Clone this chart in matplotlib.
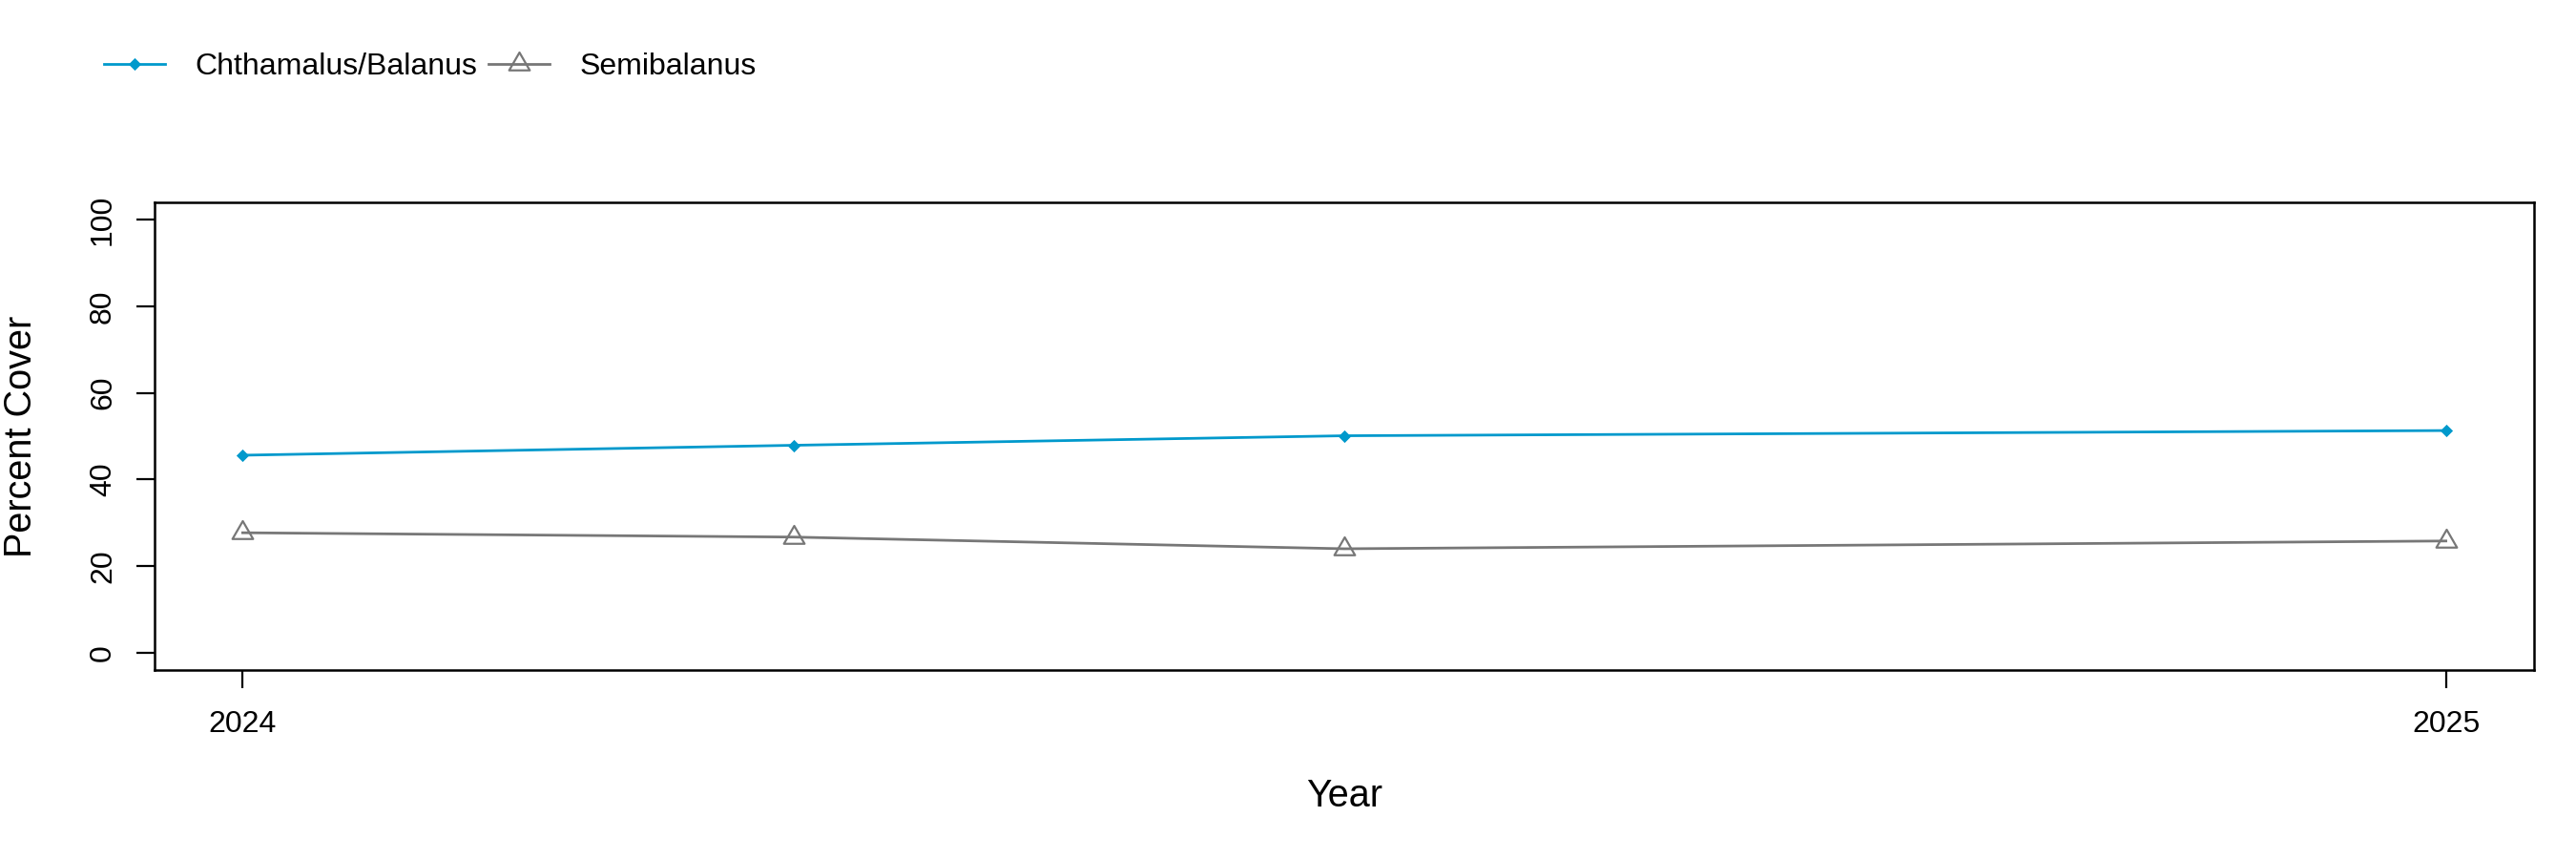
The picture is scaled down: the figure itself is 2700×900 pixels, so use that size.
import numpy as np
import matplotlib
matplotlib.use("Agg")
import matplotlib.pyplot as plt
from matplotlib.path import Path

plt.rcParams['font.family'] = ['Liberation Sans', 'DejaVu Sans']

# sampling dates as decimal years
years = [2024.0, 2024.25, 2024.5, 2025.0]
chthamalus = [45.6, 47.9, 50.1, 51.3]
semibalanus = [27.7, 26.7, 24.0, 25.8]
year_ticks = [2024, 2025]
year_labels = ['2024', '2025']
y_ticks = [0, 20, 40, 60, 80, 100]

blue = '#0099CC'
grey = '#777777'

# R style markers: filled diamond (pch 18), open triangle (pch 2)
diamond = Path([(0, 1), (1, 0), (0, -1), (-1, 0), (0, 1)], closed=True)
tri = Path([(0, 1), (-0.866, -0.5), (0.866, -0.5), (0, 1)], closed=True)

fig = plt.figure(figsize=(27, 9), dpi=100)
ax = fig.add_axes([162/2700, 1-702/900, (2656-162)/2700, (702-212)/900])

ax.plot(years, chthamalus, color=blue, lw=2.0, marker=diamond, ms=9.5,
        mfc=blue, mec=blue, mew=0, label='Chthamalus/Balanus')
ax.plot(years, semibalanus, color=grey, lw=2.0, marker=tri, ms=18,
        mfc='none', mec=grey, mew=1.6, label='Semibalanus')

ax.set_xlim(2024 - 0.04, 2025 + 0.04)
ax.set_ylim(-4, 104)
ax.set_xticks(year_ticks)
ax.set_xticklabels(year_labels)
ax.set_yticks(y_ticks)
ax.set_yticklabels([str(v) for v in y_ticks], rotation=90, va='center')

ax.tick_params(axis='both', length=14, width=1.6, labelsize=23, direction='out')
ax.tick_params(axis='x', pad=16)
ax.tick_params(axis='y', pad=14)
for s in ax.spines.values():
    s.set_linewidth(1.8)

ax.set_xlabel('Year', fontsize=28.5)
ax.set_ylabel('Percent Cover', fontsize=28.5)
ax.xaxis.set_label_coords(0.5, -(834-702)/490)
ax.yaxis.set_label_coords(-(162-22)/2494, 0.5)
ax.xaxis.label.set_va('center')
ax.yaxis.label.set_va('center')

fig.legend(loc='center left', bbox_to_anchor=(109/2700, 1-70/900), ncol=2,
           frameon=False, fontsize=23, borderpad=0, borderaxespad=0,
           handlelength=2.0, handletextpad=1.0, columnspacing=0.35)

fig.savefig('out.png', dpi=100)
